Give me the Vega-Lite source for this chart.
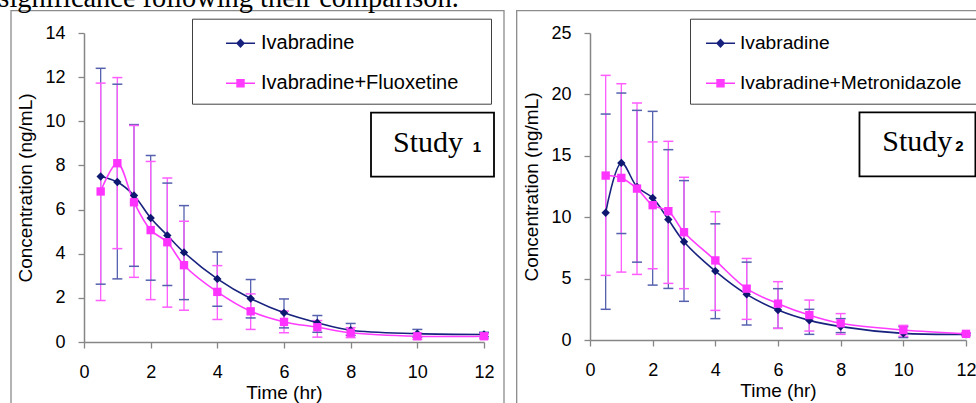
{
  "$schema": "https://vega.github.io/schema/vega-lite/v6.json",
  "padding": {"left": -2, "top": -17, "right": 0, "bottom": 0},
  "title": {"text": "significance following their comparison.", "anchor": "start", "font": "Liberation Serif", "fontSize": 28.4, "fontWeight": "normal", "color": "#000", "offset": -3, "dx": -12},
  "spacing": 11,
  "datasets": {
    "study1": [
      {"series": "Ivabradine", "t": 0.5, "mean": 7.50, "lo": 2.62, "hi": 12.40},
      {"series": "Ivabradine", "t": 1, "mean": 7.25, "lo": 2.86, "hi": 11.68},
      {"series": "Ivabradine", "t": 1.5, "mean": 6.64, "lo": 3.43, "hi": 9.85},
      {"series": "Ivabradine", "t": 2, "mean": 5.62, "lo": 2.80, "hi": 8.45},
      {"series": "Ivabradine", "t": 2.5, "mean": 4.83, "lo": 2.56, "hi": 7.20},
      {"series": "Ivabradine", "t": 3, "mean": 4.06, "lo": 1.92, "hi": 6.18},
      {"series": "Ivabradine", "t": 4, "mean": 2.86, "lo": 1.62, "hi": 4.08},
      {"series": "Ivabradine", "t": 5, "mean": 1.97, "lo": 1.09, "hi": 2.83},
      {"series": "Ivabradine", "t": 6, "mean": 1.32, "lo": 0.64, "hi": 1.95},
      {"series": "Ivabradine", "t": 7, "mean": 0.87, "lo": 0.44, "hi": 1.20},
      {"series": "Ivabradine", "t": 8, "mean": 0.53, "lo": 0.30, "hi": 0.84},
      {"series": "Ivabradine", "t": 10, "mean": 0.38, "lo": 0.22, "hi": 0.57},
      {"series": "Ivabradine", "t": 12, "mean": 0.34, "lo": 0.24, "hi": 0.44},
      {"series": "Ivabradine+Fluoxetine", "t": 0.5, "mean": 6.82, "lo": 1.88, "hi": 11.73},
      {"series": "Ivabradine+Fluoxetine", "t": 1, "mean": 8.10, "lo": 4.23, "hi": 11.98},
      {"series": "Ivabradine+Fluoxetine", "t": 1.5, "mean": 6.33, "lo": 2.93, "hi": 9.81},
      {"series": "Ivabradine+Fluoxetine", "t": 2, "mean": 5.07, "lo": 1.92, "hi": 8.18},
      {"series": "Ivabradine+Fluoxetine", "t": 2.5, "mean": 4.52, "lo": 1.58, "hi": 7.43},
      {"series": "Ivabradine+Fluoxetine", "t": 3, "mean": 3.48, "lo": 1.44, "hi": 5.47},
      {"series": "Ivabradine+Fluoxetine", "t": 4, "mean": 2.27, "lo": 1.02, "hi": 3.46},
      {"series": "Ivabradine+Fluoxetine", "t": 5, "mean": 1.39, "lo": 0.57, "hi": 2.18},
      {"series": "Ivabradine+Fluoxetine", "t": 6, "mean": 0.91, "lo": 0.42, "hi": 1.40},
      {"series": "Ivabradine+Fluoxetine", "t": 7, "mean": 0.67, "lo": 0.22, "hi": 0.97},
      {"series": "Ivabradine+Fluoxetine", "t": 8, "mean": 0.42, "lo": 0.20, "hi": 0.65},
      {"series": "Ivabradine+Fluoxetine", "t": 10, "mean": 0.26, "lo": 0.12, "hi": 0.40},
      {"series": "Ivabradine+Fluoxetine", "t": 12, "mean": 0.26, "lo": 0.15, "hi": 0.37}
    ],
    "study2": [
      {"series": "Ivabradine", "t": 0.5, "mean": 10.36, "lo": 2.50, "hi": 18.40},
      {"series": "Ivabradine", "t": 1, "mean": 14.42, "lo": 8.67, "hi": 20.11},
      {"series": "Ivabradine", "t": 1.5, "mean": 12.47, "lo": 6.34, "hi": 18.70},
      {"series": "Ivabradine", "t": 2, "mean": 11.57, "lo": 4.47, "hi": 18.62},
      {"series": "Ivabradine", "t": 2.5, "mean": 9.81, "lo": 4.20, "hi": 15.50},
      {"series": "Ivabradine", "t": 3, "mean": 8.00, "lo": 3.15, "hi": 12.98},
      {"series": "Ivabradine", "t": 4, "mean": 5.61, "lo": 1.74, "hi": 9.46},
      {"series": "Ivabradine", "t": 5, "mean": 3.72, "lo": 1.22, "hi": 6.34},
      {"series": "Ivabradine", "t": 6, "mean": 2.44, "lo": 0.95, "hi": 4.18},
      {"series": "Ivabradine", "t": 7, "mean": 1.60, "lo": 0.46, "hi": 2.50},
      {"series": "Ivabradine", "t": 8, "mean": 1.09, "lo": 0.60, "hi": 1.74},
      {"series": "Ivabradine", "t": 10, "mean": 0.54, "lo": 0.20, "hi": 1.09},
      {"series": "Ivabradine", "t": 12, "mean": 0.46, "lo": 0.36, "hi": 0.56},
      {"series": "Ivabradine+Metronidazole", "t": 0.5, "mean": 13.39, "lo": 5.26, "hi": 21.55},
      {"series": "Ivabradine+Metronidazole", "t": 1, "mean": 13.20, "lo": 5.53, "hi": 20.87},
      {"series": "Ivabradine+Metronidazole", "t": 1.5, "mean": 12.33, "lo": 5.34, "hi": 19.30},
      {"series": "Ivabradine+Metronidazole", "t": 2, "mean": 10.98, "lo": 5.80, "hi": 16.13},
      {"series": "Ivabradine+Metronidazole", "t": 2.5, "mean": 10.49, "lo": 4.61, "hi": 16.18},
      {"series": "Ivabradine+Metronidazole", "t": 3, "mean": 8.78, "lo": 4.18, "hi": 13.25},
      {"series": "Ivabradine+Metronidazole", "t": 4, "mean": 6.48, "lo": 2.41, "hi": 10.44},
      {"series": "Ivabradine+Metronidazole", "t": 5, "mean": 4.18, "lo": 1.68, "hi": 6.64},
      {"series": "Ivabradine+Metronidazole", "t": 6, "mean": 2.96, "lo": 0.95, "hi": 4.75},
      {"series": "Ivabradine+Metronidazole", "t": 7, "mean": 2.03, "lo": 0.73, "hi": 3.25},
      {"series": "Ivabradine+Metronidazole", "t": 8, "mean": 1.36, "lo": 0.46, "hi": 2.15},
      {"series": "Ivabradine+Metronidazole", "t": 10, "mean": 0.81, "lo": 0.30, "hi": 1.19},
      {"series": "Ivabradine+Metronidazole", "t": 12, "mean": 0.50, "lo": 0.40, "hi": 0.60}
    ]
  },
  "hconcat": [
    {
      "width": 400,
      "height": 309,
      "data": {"name": "study1"},
      "resolve": {"scale": {"shape": "independent", "color": "independent"}},
      "layer": [
        {
          "data": {"values": [{}]},
          "mark": {"type": "rect", "filled": false, "color": "#8c8c8c", "strokeWidth": 1.3},
          "encoding": {
            "x": {"datum": -2.19, "type": "quantitative", "scale": {"domain": [0, 12], "nice": false}, "axis": {"title": "Time (hr)", "values": [0, 2, 4, 6, 8, 10, 12]}},
            "x2": {"datum": 12.6},
            "y": {"datum": 15.01, "type": "quantitative", "scale": {"domain": [0, 14], "nice": false}, "axis": {"title": "Concentration (ng/mL)", "values": [0, 2, 4, 6, 8, 10, 12, 14]}},
            "y2": {"datum": -3}
          }
        },
        {
          "mark": {"type": "rule", "strokeWidth": 1.3},
          "encoding": {
            "x": {"field": "t", "type": "quantitative", "axis": {"title": "Time (hr)", "values": [0, 2, 4, 6, 8, 10, 12]}},
            "y": {"field": "lo", "type": "quantitative", "axis": {"title": "Concentration (ng/mL)", "values": [0, 2, 4, 6, 8, 10, 12, 14]}},
            "y2": {"field": "hi"},
            "stroke": {"field": "series", "type": "nominal", "scale": {"domain": ["Ivabradine", "Ivabradine+Fluoxetine"], "range": ["#5561AE", "#FF5CFF"]}, "legend": null}
          }
        },
        {
          "mark": {"type": "rule", "strokeWidth": 1.5, "xOffset": -5, "x2Offset": 5},
          "encoding": {
            "x": {"field": "t", "type": "quantitative", "axis": {"title": "Time (hr)", "values": [0, 2, 4, 6, 8, 10, 12]}},
            "x2": {"field": "t"},
            "y": {"field": "lo", "type": "quantitative", "axis": {"title": "Concentration (ng/mL)", "values": [0, 2, 4, 6, 8, 10, 12, 14]}},
            "stroke": {"field": "series", "type": "nominal", "legend": null}
          }
        },
        {
          "mark": {"type": "rule", "strokeWidth": 1.5, "xOffset": -5, "x2Offset": 5},
          "encoding": {
            "x": {"field": "t", "type": "quantitative", "axis": {"title": "Time (hr)", "values": [0, 2, 4, 6, 8, 10, 12]}},
            "x2": {"field": "t"},
            "y": {"field": "hi", "type": "quantitative", "axis": {"title": "Concentration (ng/mL)", "values": [0, 2, 4, 6, 8, 10, 12, 14]}},
            "stroke": {"field": "series", "type": "nominal", "legend": null}
          }
        },
        {
          "mark": {"type": "line", "interpolate": "catmull-rom", "strokeWidth": 1.6},
          "encoding": {
            "x": {"field": "t", "type": "quantitative", "axis": {"title": "Time (hr)", "values": [0, 2, 4, 6, 8, 10, 12]}},
            "y": {"field": "mean", "type": "quantitative", "axis": {"title": "Concentration (ng/mL)", "values": [0, 2, 4, 6, 8, 10, 12, 14]}},
            "color": {"field": "series", "type": "nominal", "scale": {"domain": ["Ivabradine", "Ivabradine+Fluoxetine"], "range": ["#17217E", "#FF3CFF"]}, "legend": null}
          }
        },
        {
          "mark": {"type": "point", "filled": true, "opacity": 1, "size": 70},
          "encoding": {
            "x": {"field": "t", "type": "quantitative", "axis": {"title": "Time (hr)", "values": [0, 2, 4, 6, 8, 10, 12]}},
            "y": {"field": "mean", "type": "quantitative", "axis": {"title": "Concentration (ng/mL)", "values": [0, 2, 4, 6, 8, 10, 12, 14]}},
            "color": {"field": "series", "type": "nominal", "scale": {"domain": ["Ivabradine", "Ivabradine+Fluoxetine"], "range": ["#0E1870", "#FF33FF"]}, "legend": null},
            "shape": {"field": "series", "type": "nominal", "scale": {"domain": ["Ivabradine", "Ivabradine+Fluoxetine"], "range": ["diamond", "square"]}, "legend": null}
          }
        },
        {
          "mark": {"type": "point", "filled": true, "opacity": 0, "size": 10},
          "encoding": {
            "x": {"field": "t", "type": "quantitative", "axis": {"title": "Time (hr)", "values": [0, 2, 4, 6, 8, 10, 12]}},
            "y": {"field": "mean", "type": "quantitative", "axis": {"title": "Concentration (ng/mL)", "values": [0, 2, 4, 6, 8, 10, 12, 14]}},
            "color": {"field": "series", "type": "nominal", "scale": {"domain": ["Ivabradine", "Ivabradine+Fluoxetine"], "range": ["#17217E", "#FF3CFF"]},
              "legend": {"orient": "none", "legendX": 108, "legendY": -14.3, "title": "\u00a0", "titleOrient": "right", "titleFontSize": 1, "titlePadding": 23, "padding": 10, "symbolOffset": 24, "labelOffset": 6, "rowPadding": 15, "symbolSize": 841, "symbolFillColor": "#000000", "symbolStrokeWidth": 0, "symbolOpacity": 1, "strokeColor": "#404040", "fillColor": "#ffffff", "labelFontSize": 20, "labelFont": "Liberation Sans", "labelColor": "#000", "labelLimit": 400}},
            "shape": {"field": "series", "type": "nominal", "scale": {"domain": ["Ivabradine", "Ivabradine+Fluoxetine"], "range": ["M-1,-0.05H1V0.05H-1ZM0,-0.33L0.31,0L0,0.33L-0.31,0Z", "M-1,-0.05H1V0.05H-1ZM-0.29,-0.29H0.29V0.29H-0.29Z"]},
              "legend": {"orient": "none", "legendX": 108, "legendY": -14.3, "title": "\u00a0", "titleOrient": "right", "titleFontSize": 1, "titlePadding": 23, "padding": 10, "symbolOffset": 24, "labelOffset": 6, "rowPadding": 15, "symbolSize": 841, "symbolFillColor": "#000000", "symbolStrokeWidth": 0, "symbolOpacity": 1, "strokeColor": "#404040", "fillColor": "#ffffff", "labelFontSize": 20, "labelFont": "Liberation Sans", "labelColor": "#000", "labelLimit": 400}}
          }
        },
        {
          "data": {"values": [{}]},
          "mark": {"type": "rect", "fill": "#ffffff", "stroke": "#000000", "strokeWidth": 1.8},
          "encoding": {
            "x": {"datum": 8.61, "type": "quantitative", "axis": {"title": "Time (hr)", "values": [0, 2, 4, 6, 8, 10, 12]}},
            "x2": {"datum": 12.3},
            "y": {"datum": 10.39, "type": "quantitative", "axis": {"title": "Concentration (ng/mL)", "values": [0, 2, 4, 6, 8, 10, 12, 14]}},
            "y2": {"datum": 7.49}
          }
        },
        {
          "data": {"values": [{}]},
          "mark": {"type": "text", "text": "Study", "font": "Liberation Serif", "fontSize": 30, "align": "left", "baseline": "alphabetic", "color": "#000"},
          "encoding": {
            "x": {"datum": 9.27, "type": "quantitative", "axis": {"title": "Time (hr)", "values": [0, 2, 4, 6, 8, 10, 12]}},
            "y": {"datum": 8.62, "type": "quantitative", "axis": {"title": "Concentration (ng/mL)", "values": [0, 2, 4, 6, 8, 10, 12, 14]}}
          }
        },
        {
          "data": {"values": [{}]},
          "mark": {"type": "text", "text": "1", "font": "Liberation Sans", "fontWeight": "bold", "fontSize": 15, "align": "left", "baseline": "alphabetic", "color": "#000"},
          "encoding": {
            "x": {"datum": 11.66, "type": "quantitative", "axis": {"title": "Time (hr)", "values": [0, 2, 4, 6, 8, 10, 12]}},
            "y": {"datum": 8.62, "type": "quantitative", "axis": {"title": "Concentration (ng/mL)", "values": [0, 2, 4, 6, 8, 10, 12, 14]}}
          }
        }
      ]
    },
    {
      "width": 376,
      "height": 307,
      "data": {"name": "study2"},
      "resolve": {"scale": {"shape": "independent", "color": "independent"}},
      "layer": [
        {
          "data": {"values": [{}]},
          "mark": {"type": "rect", "filled": false, "color": "#8c8c8c", "strokeWidth": 1.3},
          "encoding": {
            "x": {"datum": -2.34, "type": "quantitative", "scale": {"domain": [0, 12], "nice": false}, "axis": {"title": "Time (hr)", "values": [0, 2, 4, 6, 8, 10, 12]}},
            "x2": {"datum": 13.2},
            "y": {"datum": 26.82, "type": "quantitative", "scale": {"domain": [0, 25], "nice": false}, "axis": {"title": "Concentration (ng/mL)", "values": [0, 5, 10, 15, 20, 25]}},
            "y2": {"datum": -5.5}
          }
        },
        {
          "mark": {"type": "rule", "strokeWidth": 1.3},
          "encoding": {
            "x": {"field": "t", "type": "quantitative", "axis": {"title": "Time (hr)", "values": [0, 2, 4, 6, 8, 10, 12]}},
            "y": {"field": "lo", "type": "quantitative", "axis": {"title": "Concentration (ng/mL)", "values": [0, 5, 10, 15, 20, 25]}},
            "y2": {"field": "hi"},
            "stroke": {"field": "series", "type": "nominal", "scale": {"domain": ["Ivabradine", "Ivabradine+Metronidazole"], "range": ["#5561AE", "#FF5CFF"]}, "legend": null}
          }
        },
        {
          "mark": {"type": "rule", "strokeWidth": 1.5, "xOffset": -5, "x2Offset": 5},
          "encoding": {
            "x": {"field": "t", "type": "quantitative", "axis": {"title": "Time (hr)", "values": [0, 2, 4, 6, 8, 10, 12]}},
            "x2": {"field": "t"},
            "y": {"field": "lo", "type": "quantitative", "axis": {"title": "Concentration (ng/mL)", "values": [0, 5, 10, 15, 20, 25]}},
            "stroke": {"field": "series", "type": "nominal", "legend": null}
          }
        },
        {
          "mark": {"type": "rule", "strokeWidth": 1.5, "xOffset": -5, "x2Offset": 5},
          "encoding": {
            "x": {"field": "t", "type": "quantitative", "axis": {"title": "Time (hr)", "values": [0, 2, 4, 6, 8, 10, 12]}},
            "x2": {"field": "t"},
            "y": {"field": "hi", "type": "quantitative", "axis": {"title": "Concentration (ng/mL)", "values": [0, 5, 10, 15, 20, 25]}},
            "stroke": {"field": "series", "type": "nominal", "legend": null}
          }
        },
        {
          "mark": {"type": "line", "interpolate": "catmull-rom", "strokeWidth": 1.6},
          "encoding": {
            "x": {"field": "t", "type": "quantitative", "axis": {"title": "Time (hr)", "values": [0, 2, 4, 6, 8, 10, 12]}},
            "y": {"field": "mean", "type": "quantitative", "axis": {"title": "Concentration (ng/mL)", "values": [0, 5, 10, 15, 20, 25]}},
            "color": {"field": "series", "type": "nominal", "scale": {"domain": ["Ivabradine", "Ivabradine+Metronidazole"], "range": ["#17217E", "#FF3CFF"]}, "legend": null}
          }
        },
        {
          "mark": {"type": "point", "filled": true, "opacity": 1, "size": 70},
          "encoding": {
            "x": {"field": "t", "type": "quantitative", "axis": {"title": "Time (hr)", "values": [0, 2, 4, 6, 8, 10, 12]}},
            "y": {"field": "mean", "type": "quantitative", "axis": {"title": "Concentration (ng/mL)", "values": [0, 5, 10, 15, 20, 25]}},
            "color": {"field": "series", "type": "nominal", "scale": {"domain": ["Ivabradine", "Ivabradine+Metronidazole"], "range": ["#0E1870", "#FF33FF"]}, "legend": null},
            "shape": {"field": "series", "type": "nominal", "scale": {"domain": ["Ivabradine", "Ivabradine+Metronidazole"], "range": ["diamond", "square"]}, "legend": null}
          }
        },
        {
          "mark": {"type": "point", "filled": true, "opacity": 0, "size": 10},
          "encoding": {
            "x": {"field": "t", "type": "quantitative", "axis": {"title": "Time (hr)", "values": [0, 2, 4, 6, 8, 10, 12]}},
            "y": {"field": "mean", "type": "quantitative", "axis": {"title": "Concentration (ng/mL)", "values": [0, 5, 10, 15, 20, 25]}},
            "color": {"field": "series", "type": "nominal", "scale": {"domain": ["Ivabradine", "Ivabradine+Metronidazole"], "range": ["#17217E", "#FF3CFF"]},
              "legend": {"orient": "none", "legendX": 100, "legendY": -14.3, "title": "\u00a0", "titleOrient": "right", "titleFontSize": 1, "titlePadding": 23, "padding": 10, "symbolOffset": 6, "labelOffset": 5, "rowPadding": 15, "symbolSize": 841, "symbolFillColor": "#000000", "symbolStrokeWidth": 0, "symbolOpacity": 1, "strokeColor": "#404040", "fillColor": "#ffffff", "labelFontSize": 19.2, "labelFont": "Liberation Sans", "labelColor": "#000", "labelLimit": 400}},
            "shape": {"field": "series", "type": "nominal", "scale": {"domain": ["Ivabradine", "Ivabradine+Metronidazole"], "range": ["M-1,-0.05H1V0.05H-1ZM0,-0.33L0.31,0L0,0.33L-0.31,0Z", "M-1,-0.05H1V0.05H-1ZM-0.29,-0.29H0.29V0.29H-0.29Z"]},
              "legend": {"orient": "none", "legendX": 100, "legendY": -14.3, "title": "\u00a0", "titleOrient": "right", "titleFontSize": 1, "titlePadding": 23, "padding": 10, "symbolOffset": 6, "labelOffset": 5, "rowPadding": 15, "symbolSize": 841, "symbolFillColor": "#000000", "symbolStrokeWidth": 0, "symbolOpacity": 1, "strokeColor": "#404040", "fillColor": "#ffffff", "labelFontSize": 19.2, "labelFont": "Liberation Sans", "labelColor": "#000", "labelLimit": 400}}
          }
        },
        {
          "data": {"values": [{}]},
          "mark": {"type": "rect", "fill": "#ffffff", "stroke": "#000000", "strokeWidth": 1.8},
          "encoding": {
            "x": {"datum": 8.6, "type": "quantitative", "axis": {"title": "Time (hr)", "values": [0, 2, 4, 6, 8, 10, 12]}},
            "x2": {"datum": 12.3},
            "y": {"datum": 18.54, "type": "quantitative", "axis": {"title": "Concentration (ng/mL)", "values": [0, 5, 10, 15, 20, 25]}},
            "y2": {"datum": 13.33}
          }
        },
        {
          "data": {"values": [{}]},
          "mark": {"type": "text", "text": "Study", "font": "Liberation Serif", "fontSize": 30, "align": "left", "baseline": "alphabetic", "color": "#000"},
          "encoding": {
            "x": {"datum": 9.33, "type": "quantitative", "axis": {"title": "Time (hr)", "values": [0, 2, 4, 6, 8, 10, 12]}},
            "y": {"datum": 15.37, "type": "quantitative", "axis": {"title": "Concentration (ng/mL)", "values": [0, 5, 10, 15, 20, 25]}}
          }
        },
        {
          "data": {"values": [{}]},
          "mark": {"type": "text", "text": "2", "font": "Liberation Sans", "fontWeight": "bold", "fontSize": 15, "align": "left", "baseline": "alphabetic", "color": "#000"},
          "encoding": {
            "x": {"datum": 11.66, "type": "quantitative", "axis": {"title": "Time (hr)", "values": [0, 2, 4, 6, 8, 10, 12]}},
            "y": {"datum": 15.37, "type": "quantitative", "axis": {"title": "Concentration (ng/mL)", "values": [0, 5, 10, 15, 20, 25]}}
          }
        }
      ]
    }
  ],
  "resolve": {"scale": {"color": "independent", "stroke": "independent", "shape": "independent", "x": "independent", "y": "independent"}, "legend": {"color": "independent", "shape": "independent"}},
  "config": {
    "view": {"stroke": null},
    "font": "Liberation Sans",
    "axis": {"grid": false, "domainColor": "#868686", "domainWidth": 1.5, "tickColor": "#868686", "tickWidth": 1.3, "tickSize": 6, "labelFont": "Liberation Sans", "labelFontSize": 18, "labelColor": "#000", "titleFont": "Liberation Sans", "titleFontSize": 19, "titleFontWeight": "normal", "titleColor": "#000", "labelOverlap": false},
    "axisX": {"labelPadding": 15, "titlePadding": 2, "labelFlush": false},
    "axisY": {"labelPadding": 13, "titlePadding": 9}
  }
}
